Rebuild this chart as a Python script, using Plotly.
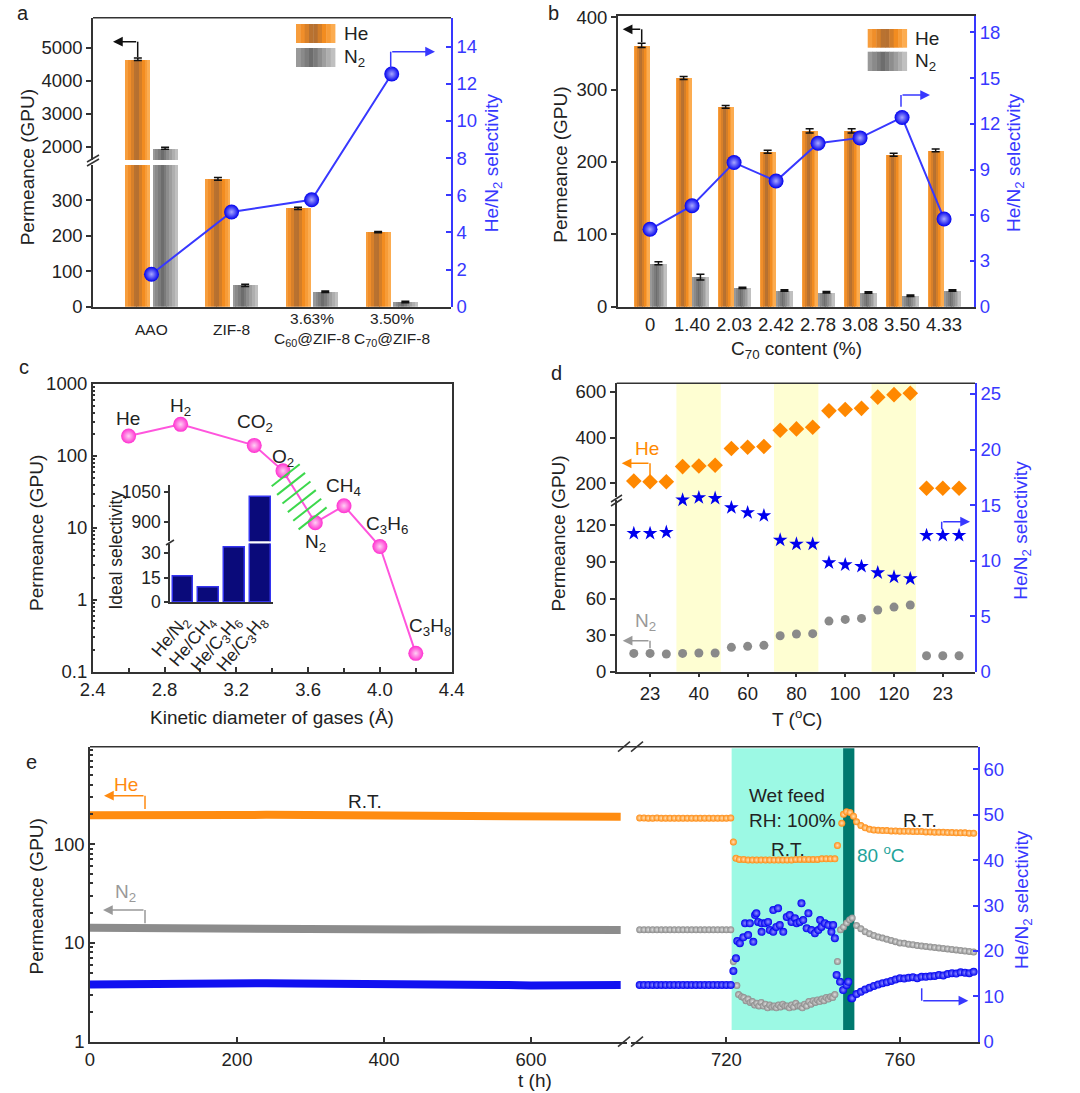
import plotly.graph_objects as go

W, H = 1080, 1093
def px(x): return x / W
def py(y): return 1 - y / H

FONT = "Liberation Sans, Arial, sans-serif"
BLACK = "#222222"
AXC = "#333333"
BLUE_AX = "#3838FF"
BLUE = "#0000EE"
MAGENTA = "#FF2FD0"
TICK = 18.5
TITLE = 19

# ---------------- data: panel a ----------------
a_cats = ["AAO", "ZIF-8", "3.63%<br>C<sub>60</sub>@ZIF-8", "3.50%<br>C<sub>70</sub>@ZIF-8"]
a_he = [4650, 360, 277, 210]
a_n2 = [1960, 60, 42, 13]
a_he_err = [40, 4, 3, 2]
a_n2_err = [30, 3, 2, 2]
a_sel = [1.75, 5.1, 5.76, 12.53]

# ---------------- data: panel b ----------------
b_cats = ["0", "1.40", "2.03", "2.42", "2.78", "3.08", "3.50", "4.33"]
b_he = [361, 316, 276, 214, 243, 243, 210, 216]
b_n2 = [60, 41, 26, 22.5, 20, 19.5, 15, 22.5]
b_he_err = [3, 2, 2, 2, 3, 3, 2, 2]
b_n2_err = [2, 4, 1, 1, 1, 1, 1, 1]
b_sel = [5.08, 6.63, 9.46, 8.25, 10.73, 11.08, 12.42, 5.76]

# ---------------- data: panel c ----------------
c_gas = ["He", "H<sub>2</sub>", "CO<sub>2</sub>", "O<sub>2</sub>", "N<sub>2</sub>",
         "CH<sub>4</sub>", "C<sub>3</sub>H<sub>6</sub>", "C<sub>3</sub>H<sub>8</sub>"]
c_diam = [2.6, 2.89, 3.3, 3.46, 3.64, 3.8, 4.0, 4.2]
c_perm = [189, 275, 140, 62, 11.8, 20.3, 5.5, 0.18]
c_pairs = ["He/N<sub>2</sub>", "He/CH<sub>4</sub>", "He/C<sub>3</sub>H<sub>6</sub>", "He/C<sub>3</sub>H<sub>8</sub>"]
c_ideal = [15.6, 8.9, 33.4, 1025]

# ---------------- data: panel d ----------------
d_groups = ["23", "40", "60", "80", "100", "120", "23"]
d_he = [210, 207, 207, 273, 276, 279, 352, 358, 361, 432, 438, 445,
        517, 523, 528, 577, 588, 594, 178, 178, 178]
d_n2 = [15.0, 15.0, 14.5, 15.0, 15.3, 15.3, 20.0, 20.8, 21.6, 29.5, 30.9, 31.2,
        41.5, 42.9, 43.7, 50.6, 53.0, 54.7, 13.1, 13.1, 13.1]
d_sel = [12.45, 12.45, 12.55, 15.46, 15.67, 15.61, 14.77, 14.32, 14.05, 11.85, 11.49, 11.49,
         9.81, 9.63, 9.48, 8.91, 8.52, 8.37, 12.27, 12.27, 12.27]
d_shaded = [1, 3, 5]

# ---------------- data: panel e ----------------
e_t1 = [0, 40, 80, 120, 160, 200, 240, 280, 320, 360, 400, 440, 480, 520, 560, 600, 640, 680, 722]
e_he1 = [196, 198, 200, 202, 199, 197, 198, 197, 197, 199, 197, 196, 195, 194, 192, 190, 190, 189, 189]
e_n2_1 = [14.2, 14.1, 14.0, 14.0, 13.9, 13.9, 13.8, 13.9, 13.8, 13.8, 13.8, 13.7, 13.7, 13.7, 13.6,
          13.6, 13.6, 13.6, 13.5]
e_sel1 = [12.6, 12.7, 12.9, 13.0, 12.8, 12.9, 12.9, 12.8, 12.8, 12.9, 12.8, 12.7, 12.7, 12.6, 12.5,
          12.4, 12.5, 12.5, 12.5]

e_t_pre = [700, 701, 702, 703, 704, 705, 706, 707, 708, 709, 710, 711, 712, 713, 714, 715, 716, 717,
           718, 719, 720, 721]
e_he_pre = [184, 184, 183, 183, 184, 183, 183, 183, 183, 183, 183, 183, 183, 183, 183, 183, 183, 183,
            183, 183, 183, 184]
e_n2_pre = [13.6, 13.6, 13.6, 13.6, 13.6, 13.6, 13.6, 13.6, 13.6, 13.6, 13.6, 13.6, 13.6, 13.6, 13.6,
            13.6, 13.6, 13.6, 13.6, 13.6, 13.6, 13.6]
e_sel_pre = [12.5, 12.5, 12.5, 12.5, 12.5, 12.5, 12.5, 12.5, 12.5, 12.5, 12.5, 12.5, 12.5, 12.5, 12.5,
             12.5, 12.5, 12.5, 12.5, 12.5, 12.5, 12.5]

e_t_he_wet = [721.6, 722.2, 723, 724, 725, 726, 727, 728, 729, 730, 731, 732, 733, 734, 735, 736, 737,
              738, 739, 740, 741, 742, 743, 744, 745, 745.6]
e_he_wet = [105, 72, 70, 70, 69, 69, 69, 69, 69, 69, 69, 69, 69, 69, 69, 70, 70, 70, 70, 70, 70, 71,
            71, 71, 71, 97]
e_t_he_hot = [746.6, 747.0, 747.7, 748.5, 749.3]
e_he_hot = [163, 200, 213, 209, 191]
e_t_post = [750, 751, 752, 753, 754, 755, 756, 757, 758, 759, 760, 761, 762, 763, 764, 765, 766, 767,
            768, 769, 770, 771, 772, 773, 774, 775, 776, 777]
e_he_post = [168, 154, 146, 141, 139, 138, 137, 137, 136, 136, 135, 135, 135, 134, 134, 134, 133, 133,
             132, 132, 132, 131, 131, 130, 130, 130, 129, 129]

e_t_n2_wet = [721.6, 722.4, 722.8, 723.5, 724.0, 724.5, 725.0, 725.5, 726.0, 726.5, 727.0, 727.5,
              728.0, 728.5, 729.0, 729.5, 730.0, 730.5, 731.0, 731.5, 732.0, 732.5, 733.0, 733.5,
              734.0, 734.5, 735.0, 735.5, 736.0, 736.5, 737.0, 737.5, 738.0, 738.5, 739.0, 739.5,
              740.0, 740.5, 741.0, 741.5, 742.0, 742.5, 743.0, 743.5, 744.0, 744.5, 745.0, 745.6]
e_n2_wet = [6.5, 3.7, 3.0, 2.85, 2.8, 2.6, 2.7, 2.5, 2.55, 2.35, 2.45, 2.3,
            2.5, 2.3, 2.4, 2.2, 2.35, 2.25, 2.3, 2.2, 2.35, 2.25, 2.4, 2.3,
            2.3, 2.2, 2.35, 2.25, 2.45, 2.3, 2.3, 2.2, 2.4, 2.3, 2.55, 2.4,
            2.6, 2.5, 2.65, 2.55, 2.7, 2.6, 2.8, 2.7, 2.85, 2.8, 3.0, 6.5]
e_t_n2_hot = [746.3, 747.0, 747.7, 748.4, 749.0]
e_n2_hot = [13.6, 14.5, 15.9, 17.2, 17.9]
e_n2_post = [15.0, 13.9, 13.0, 12.4, 11.9, 11.5, 11.2, 10.9, 10.6, 10.3, 10.0, 9.9, 9.7, 9.6, 9.4,
             9.3, 9.2, 9.1, 9.0, 8.9, 8.8, 8.7, 8.6, 8.5, 8.4, 8.3, 8.2, 8.1]

e_t_sel_wet = [721.6, 722.2, 722.5, 723.1, 723.9, 724.3, 725.0, 725.4, 726.2, 726.6, 726.9, 727.3,
               728.1, 728.1, 728.9, 729.6, 730.0, 730.8, 730.8, 731.9, 731.5, 732.3, 733.1, 733.9,
               734.6, 735.0, 735.8, 736.2, 736.9, 737.3, 737.7, 738.9, 738.5, 739.6, 740.4, 741.2,
               741.6, 741.9, 742.7, 743.5, 744.2, 744.6, 745.0, 745.4, 746.2, 746.9, 747.7, 748.1,
               748.8]
e_sel_wet = [15.6, 18.4, 22.2, 21.7, 23.0, 26.1, 23.5, 26.1, 22.0, 27.9, 28.3, 26.4,
             26.1, 24.2, 26.1, 26.4, 24.6, 24.2, 29.0, 29.4, 25.3, 25.7, 24.2, 27.5,
             27.9, 26.4, 27.2, 26.1, 26.4, 30.5, 26.8, 28.3, 25.0, 24.6, 23.9, 24.6,
             26.8, 25.3, 26.1, 25.7, 24.2, 25.7, 22.8, 14.7, 13.2, 11.4, 12.5, 13.2,
             9.6]
e_t_sel_post = [749, 750, 751, 752, 753, 754, 755, 756, 757, 758, 759, 760, 761, 762, 763, 764, 765,
                766, 767, 768, 769, 770, 771, 772, 773, 774, 775, 776, 777]
e_sel_post = [9.6, 10.5, 11.0, 11.5, 11.9, 12.3, 12.6, 12.9, 13.1, 13.4, 13.7, 14.0, 13.9, 14.1, 14.2,
              14.0, 14.3, 14.3, 14.4, 14.5, 14.7, 14.6, 14.9, 15.1, 15.0, 15.3, 15.2, 15.1, 15.4]
e_wet_span = [721.2, 746.9]
e_hot_span = [746.9, 749.5]

# ---------------- helpers ----------------
def hex2rgb(h):
    h = h.lstrip('#')
    return tuple(int(h[i:i + 2], 16) for i in (0, 2, 4))

def grad_color(stops, f):
    for (f0, c0), (f1, c1) in zip(stops[:-1], stops[1:]):
        if f0 <= f <= f1:
            t = (f - f0) / (f1 - f0) if f1 > f0 else 0
            a, b = hex2rgb(c0), hex2rgb(c1)
            return 'rgb(%d,%d,%d)' % tuple(round(a[i] + (b[i] - a[i]) * t) for i in range(3))
    return stops[-1][1]

HE_STOPS = [(0, '#FBA445'), (0.2, '#EE8A24'), (0.45, '#A86A34'), (0.72, '#F28C20'), (1, '#FFB45C')]
N2_STOPS = [(0, '#A0A0A0'), (0.4, '#6C6C6C'), (0.75, '#A2A2A2'), (1, '#C8C8C8')]
NSL = 9

fig = go.Figure()
shapes, annos = [], []

def grad_bars(xc, vals, width, stops, xa, ya):
    for i in range(NSL):
        f = (i + 0.5) / NSL
        off = -width / 2 + f * width
        fig.add_trace(go.Bar(x=[x + off for x in xc], y=vals, width=width / NSL * 1.05,
                             marker=dict(color=grad_color(stops, f), line=dict(width=0)),
                             xaxis=xa, yaxis=ya, hoverinfo='skip'))

def err_trace(xc, vals, errs, xa, ya):
    fig.add_trace(go.Scatter(x=xc, y=vals, mode='markers', marker=dict(size=1, color='rgba(0,0,0,0)'),
                             error_y=dict(type='data', array=errs, color='#111', thickness=1.5, width=4),
                             xaxis=xa, yaxis=ya, hoverinfo='skip'))

def grad_rect(x0, y0, x1, y1, stops):
    w = (x1 - x0) / NSL
    for i in range(NSL):
        f = (i + 0.5) / NSL
        shapes.append(dict(type='rect', xref='paper', yref='paper',
                           x0=px(x0 + i * w), x1=px(x0 + (i + 1) * w + 0.4), y0=py(y1), y1=py(y0),
                           fillcolor=grad_color(stops, f), line=dict(width=0)))

def line_px(x0, y0, x1, y1, color=AXC, width=1.5):
    shapes.append(dict(type='line', xref='paper', yref='paper', x0=px(x0), y0=py(y0), x1=px(x1), y1=py(y1),
                       line=dict(color=color, width=width)))

def text_px(x, y, text, size=TITLE, color=BLACK, angle=0, xanchor='center', yanchor='middle'):
    annos.append(dict(xref='paper', yref='paper', x=px(x), y=py(y), text=text, showarrow=False,
                      textangle=angle, xanchor=xanchor, yanchor=yanchor,
                      font=dict(family=FONT, size=size, color=color)))

def bracket_arrow(xv, y_start, y_corner, x_end, color):
    line_px(xv, y_start, xv, y_corner, color, 1.5)
    annos.append(dict(xref='paper', yref='paper', x=px(x_end), y=py(y_corner), ax=xv - x_end, ay=0,
                      axref='pixel', ayref='pixel', text='', showarrow=True, arrowhead=2, arrowsize=1.3,
                      arrowwidth=1.5, arrowcolor=color, standoff=0))

def ax(**kw):
    base = dict(showgrid=False, zeroline=False, showline=True, linecolor=AXC, linewidth=1.5,
                ticks='outside', ticklen=5, tickwidth=1.5, tickcolor=AXC, automargin=False,
                tickfont=dict(family=FONT, size=TICK, color=BLACK))
    base.update(kw)
    return base

def blue_ax(**kw):
    base = ax(linecolor=BLUE_AX, tickcolor=BLUE_AX, ticks='inside',
              tickfont=dict(family=FONT, size=TICK, color=BLUE_AX), side='right')
    base.update(kw)
    return base

def sphere(color, center, size):
    return dict(size=size, color=color, gradient=dict(type='radial', color=center), line=dict(width=0))

L = {}

# ================= panel a =================
ax_pos = list(range(len(a_cats)))
for ya in ('y', 'y2'):
    grad_bars([p - 0.17 for p in ax_pos], a_he, 0.31, HE_STOPS, 'x', ya)
    grad_bars([p + 0.17 for p in ax_pos], a_n2, 0.31, N2_STOPS, 'x', ya)
    err_trace([p - 0.17 for p in ax_pos], a_he, a_he_err, 'x', ya)
    err_trace([p + 0.17 for p in ax_pos], a_n2, a_n2_err, 'x', ya)
fig.add_trace(go.Scatter(x=ax_pos, y=a_sel, mode='lines+markers', line=dict(color=BLUE_AX, width=2),
                         marker=sphere(BLUE, '#A8A8FF', 15), xaxis='x', yaxis='y3', cliponaxis=False))
L['xaxis'] = ax(domain=[px(93), px(451)], range=[-0.73, 3.74], anchor='y', ticks='', showticklabels=False)
L['yaxis'] = ax(domain=[py(306.7), py(165)], range=[0, 399], anchor='x', tickvals=[0, 100, 200, 300])
L['yaxis2'] = ax(domain=[py(160), py(17.7)], range=[1607, 5906], anchor='x', tickvals=[2000, 3000, 4000, 5000])
L['yaxis3'] = blue_ax(domain=[py(306.7), py(17.7)], range=[0, 15.56], anchor='x', tickvals=list(range(0, 15, 2)))
line_px(93, 17.7, 451, 17.7)
line_px(87, 166, 99, 159)
line_px(87, 162, 99, 155)
for i, t in enumerate(a_cats):
    annos.append(dict(xref='x', yref='paper', x=i, y=py(330), text=t, showarrow=False, yanchor='middle',
                      font=dict(family=FONT, size=15.5, color=BLACK)))
grad_rect(296, 24, 335, 43, HE_STOPS)
grad_rect(296, 48, 335, 67, N2_STOPS)
text_px(342, 33.5, "He", xanchor='left')
text_px(342, 58, "N<sub>2</sub>", xanchor='left')
bracket_arrow(137.7, 57, 41.7, 113, '#111')
bracket_arrow(390.7, 68, 51.7, 435, BLUE_AX)
text_px(28.3, 167, "Permeance (GPU)", angle=-90)
text_px(493.3, 163, "He/N<sub>2</sub> selectivity", angle=-90, color=BLUE_AX)
text_px(23, 13, "a", size=20)

# ================= panel b =================
bx_pos = list(range(len(b_cats)))
grad_bars([p - 0.2 for p in bx_pos], b_he, 0.37, HE_STOPS, 'x2', 'y4')
grad_bars([p + 0.2 for p in bx_pos], b_n2, 0.37, N2_STOPS, 'x2', 'y4')
err_trace([p - 0.2 for p in bx_pos], b_he, b_he_err, 'x2', 'y4')
err_trace([p + 0.2 for p in bx_pos], b_n2, b_n2_err, 'x2', 'y4')
fig.add_trace(go.Scatter(x=bx_pos, y=b_sel, mode='lines+markers', line=dict(color=BLUE_AX, width=2),
                         marker=sphere(BLUE, '#A8A8FF', 15), xaxis='x2', yaxis='y5', cliponaxis=False))
L['xaxis2'] = ax(domain=[px(617.7), px(974.3)], range=[-0.77, 7.72], anchor='y4', ticks='',
                 tickvals=bx_pos, ticktext=b_cats, mirror=True)
L['yaxis4'] = ax(domain=[py(306.7), py(15.7)], range=[0, 402], anchor='x2', tickvals=[0, 100, 200, 300, 400])
L['yaxis5'] = blue_ax(domain=[py(306.7), py(15.7)], range=[0, 19.1], anchor='x2', overlaying='y4',
                      tickvals=list(range(0, 19, 3)))
grad_rect(867.7, 29, 906.7, 47.7, HE_STOPS)
grad_rect(867.7, 51.7, 906.7, 71, N2_STOPS)
text_px(912.7, 38.3, "He", xanchor='left')
text_px(912.7, 62, "N<sub>2</sub>", xanchor='left')
bracket_arrow(641.7, 42.3, 29.3, 622.7, '#111')
bracket_arrow(901, 106.7, 95, 930, BLUE_AX)
text_px(560.7, 165, "Permeance (GPU)", angle=-90)
text_px(1015, 163, "He/N<sub>2</sub> selectivity", angle=-90, color=BLUE_AX)
text_px(796.7, 350, "C<sub>70</sub> content (%)")
text_px(553, 13, "b", size=20)

# ================= panel c =================
fig.add_trace(go.Scatter(x=c_diam, y=c_perm, mode='lines+markers', line=dict(color='#FF55DD', width=2),
                         marker=sphere(MAGENTA, '#FFD0F4', 15), xaxis='x3', yaxis='y6', cliponaxis=False))
L['xaxis3'] = ax(domain=[px(92.7), px(451.7)], range=[2.4, 4.4], anchor='y6', mirror=True, ticks='inside',
                 tickvals=[2.4, 2.8, 3.2, 3.6, 4.0, 4.4], ticktext=['2.4', '2.8', '3.2', '3.6', '4.0', '4.4'],
                 minor=dict(tickvals=[2.6, 3.0, 3.4, 3.8, 4.2], ticks='inside', ticklen=4, tickcolor=AXC))
L['yaxis6'] = ax(domain=[py(671.7), py(384)], type='log', range=[-1, 3], anchor='x3', mirror=True,
                 ticks='inside', tickvals=[0.1, 1, 10, 100, 1000], ticktext=['0.1', '1', '10', '100', '1000'],
                 minor=dict(ticks='inside', ticklen=3, tickcolor=AXC, dtick='D1'))
# inset
ix = list(range(len(c_pairs)))
for ya in ('y7', 'y8'):
    fig.add_trace(go.Bar(x=ix, y=c_ideal, width=0.8, marker=dict(color='#0A0A7A', line=dict(color='#3434F0', width=1.5)),
                         xaxis='x4', yaxis=ya, hoverinfo='skip'))
L['xaxis4'] = ax(domain=[px(170), px(273.3)], range=[-0.5, 3.5], anchor='y7', ticks='', tickvals=ix,
                 ticktext=c_pairs, tickangle=-50, tickfont=dict(family=FONT, size=17.5, color=BLACK))
L['yaxis7'] = ax(domain=[py(602.3), py(543.5)], range=[0, 35.6], anchor='x4', tickvals=[0, 15, 30],
                 tickfont=dict(family=FONT, size=17.5, color=BLACK), ticklen=4)
L['yaxis8'] = ax(domain=[py(541.3), py(485)], range=[803, 1086], anchor='x4', tickvals=[900, 1050],
                 tickfont=dict(family=FONT, size=17.5, color=BLACK), ticklen=4)
line_px(166, 545, 174, 540)
# hatch between O2 and N2
o2 = (283, 470.9)
n2 = (315.3, 522.7)
for k in range(6):
    f = (k + 0.5) / 6
    cx = o2[0] + f * (n2[0] - o2[0])
    cy = o2[1] + f * (n2[1] - o2[1])
    line_px(cx - 14, cy + 11, cx + 14, cy - 11, '#3CD84C', 2)
c_lab = [(128.3, 418.3), (180, 406.7), (255, 423.3), (282.7, 458.3), (315, 543.3), (343.3, 486.7),
         (386.7, 525), (430, 626.7)]
for (lx, ly), g in zip(c_lab, c_gas):
    text_px(lx, ly, g)
text_px(115.5, 550, "Ideal selectivity", size=17.5, angle=-90)
text_px(36.7, 533.3, "Permeance (GPU)", angle=-90)
text_px(271.7, 718, "Kinetic diameter of gases (Å)")
text_px(24, 367, "c", size=20)

# ================= panel d =================
dx = [g + k / 3 for g in range(len(d_groups)) for k in (-1, 0, 1)]
for g in d_shaded:
    shapes.append(dict(type='rect', xref='x5', yref='paper', x0=g - 0.46, x1=g + 0.45,
                       y0=py(671.7), y1=py(383.3), fillcolor='#FEFED2', line=dict(width=0), layer='below'))
fig.add_trace(go.Scatter(x=dx, y=d_he, mode='markers', marker=dict(symbol='diamond', size=12, color='#FF8800'),
                         xaxis='x5', yaxis='y10'))
fig.add_trace(go.Scatter(x=dx, y=d_n2, mode='markers', marker=dict(size=9, color='#8A8A8A'),
                         xaxis='x5', yaxis='y9'))
fig.add_trace(go.Scatter(x=dx, y=d_sel, mode='markers', marker=dict(symbol='star', size=11, color=BLUE),
                         xaxis='x5', yaxis='y11'))
L['xaxis5'] = ax(domain=[px(616.7), px(975)], range=[-0.684, 6.66], anchor='y9', ticklen=4,
                 tickvals=list(range(len(d_groups))), ticktext=d_groups)
L['yaxis9'] = ax(domain=[py(671.7), py(500)], range=[0, 140.8], anchor='x5', tickvals=[0, 30, 60, 90, 120])
L['yaxis10'] = ax(domain=[py(496.5), py(383.3)], range=[142.2, 637.6], anchor='x5', tickvals=[200, 400, 600])
L['yaxis11'] = blue_ax(domain=[py(671.7), py(383.3)], range=[0, 25.96], anchor='x5', tickvals=[0, 5, 10, 15, 20, 25])
line_px(616.7, 383.3, 975, 383.3)
line_px(611, 502, 622, 495)
line_px(611, 506, 622, 499)
text_px(646.7, 448.3, "He", color='#FF8800')
bracket_arrow(650, 476, 463.3, 621.7, '#FF8800')
text_px(645, 621.7, "N<sub>2</sub>", color='#999999')
bracket_arrow(650, 648.3, 640.7, 622.7, '#999999')
bracket_arrow(941.7, 529.3, 521.7, 970, BLUE_AX)
text_px(558.3, 533.3, "Permeance (GPU)", angle=-90)
text_px(1021.7, 530, "He/N<sub>2</sub> selectivity", angle=-90, color=BLUE_AX)
text_px(796.7, 718, "T (<sup>o</sup>C)")
text_px(556, 373, "d", size=20)

# ================= panel e =================
shapes.append(dict(type='rect', xref='x7', yref='paper', x0=e_wet_span[0], x1=e_wet_span[1],
                   y0=py(1030), y1=py(748.3), fillcolor='#9CF9E4', line=dict(width=0), layer='below'))
shapes.append(dict(type='rect', xref='x7', yref='paper', x0=e_hot_span[0], x1=e_hot_span[1],
                   y0=py(1030), y1=py(748.3), fillcolor='#00796E', line=dict(width=0), layer='below'))
# segment 1 (dense data drawn as thick bands)
fig.add_trace(go.Scatter(x=e_t1, y=e_he1, mode='lines', line=dict(color='#FF8C10', width=8),
                         xaxis='x6', yaxis='y12'))
fig.add_trace(go.Scatter(x=e_t1, y=e_n2_1, mode='lines', line=dict(color='#8C8C8C', width=8),
                         xaxis='x6', yaxis='y12'))
fig.add_trace(go.Scatter(x=e_t1, y=e_sel1, mode='lines', line=dict(color='#1010F0', width=8),
                         xaxis='x6', yaxis='y15'))
# segment 2
he_t = e_t_pre + e_t_he_wet + e_t_he_hot + e_t_post
he_v = e_he_pre + e_he_wet + e_he_hot + e_he_post
n2_t = e_t_pre + e_t_n2_wet + e_t_n2_hot + e_t_post
n2_v = e_n2_pre + e_n2_wet + e_n2_hot + e_n2_post
sel_t = e_t_pre + e_t_sel_wet + e_t_sel_post
sel_v = e_sel_pre + e_sel_wet + e_sel_post
fig.add_trace(go.Scatter(x=he_t, y=he_v, mode='markers', marker=sphere('#FF8A10', '#FFE2B8', 7),
                         xaxis='x7', yaxis='y13'))
fig.add_trace(go.Scatter(x=n2_t, y=n2_v, mode='markers', marker=sphere('#8A8A8A', '#E0E0E0', 7),
                         xaxis='x7', yaxis='y13'))
fig.add_trace(go.Scatter(x=sel_t, y=sel_v, mode='markers', marker=sphere('#0000F0', '#9090FF', 8),
                         xaxis='x7', yaxis='y14'))
L['xaxis6'] = ax(domain=[px(90), px(627)], range=[0, 730.6], anchor='y12', ticks='inside',
                 tickvals=[0, 200, 400, 600])
L['xaxis7'] = ax(domain=[px(631), px(978)], range=[698, 778], anchor='y14', ticks='inside',
                 tickvals=[720, 760])
L['yaxis12'] = ax(domain=[py(1041.7), py(746.7)], type='log', range=[0, 2.986], anchor='x6', ticks='inside',
                  tickvals=[1, 10, 100], ticktext=['1', '10', '100'],
                  minor=dict(ticks='inside', ticklen=3, tickcolor=AXC, dtick='D1'))
L['yaxis13'] = dict(domain=[py(1041.7), py(746.7)], type='log', range=[0, 2.986], anchor='x7',
                    visible=False, automargin=False)
L['yaxis14'] = blue_ax(domain=[py(1041.7), py(746.7)], range=[0, 65], anchor='x7',
                       tickvals=[0, 10, 20, 30, 40, 50, 60])
L['yaxis15'] = dict(domain=[py(1041.7), py(746.7)], range=[0, 65], anchor='x6', visible=False,
                    automargin=False)
line_px(90, 746.7, 978, 746.7)
for xs in (624, 637):
    for yb in (746.7, 1041.7):
        line_px(xs - 6, yb + 5, xs + 6, yb - 5, AXC, 1.5)
text_px(126, 784, "He", color='#FF8A10')
bracket_arrow(145, 809, 795.7, 104, '#FF8A10')
text_px(125, 893.3, "N<sub>2</sub>", color='#999999')
bracket_arrow(145, 923.3, 910, 103, '#999999')
bracket_arrow(921.7, 988.3, 1000.7, 968.3, BLUE_AX)
text_px(365, 801.7, "R.T.")
text_px(787.3, 795, "Wet feed")
text_px(792.7, 820, "RH: 100%")
text_px(788.3, 849, "R.T.")
text_px(920, 820.7, "R.T.")
text_px(855, 854, "80 <sup>o</sup>C", color='#1EA39A', xanchor='left')
text_px(36.7, 896.7, "Permeance (GPU)", angle=-90)
text_px(1023, 900, "He/N<sub>2</sub> selectivity", angle=-90, color=BLUE_AX)
text_px(535, 1080, "t (h)")
text_px(31.7, 761.7, "e", size=20)

fig.update_layout(**L)
fig.update_layout(width=W, height=H, autosize=False, margin=dict(l=0, r=0, t=0, b=0, pad=0),
                  showlegend=False, barmode='overlay', bargap=0,
                  plot_bgcolor='rgba(0,0,0,0)', paper_bgcolor='white',
                  font=dict(family=FONT, size=18, color=BLACK),
                  shapes=shapes, annotations=annos)
fig.write_html("out.html", config={'displayModeBar': False},
               post_script="document.body.style.margin='0';")
